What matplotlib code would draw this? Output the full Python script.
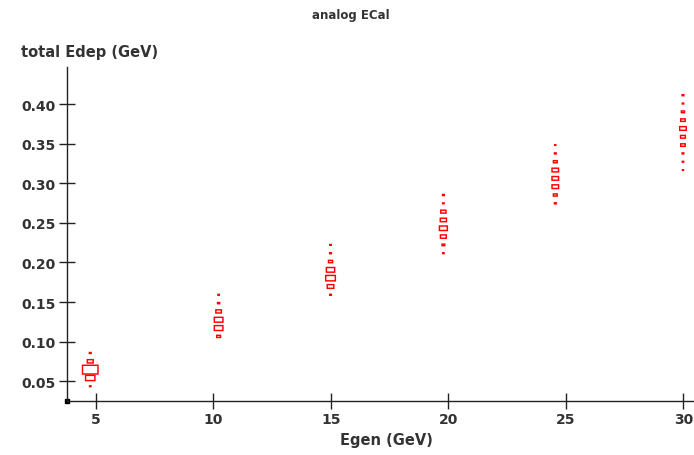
import matplotlib
matplotlib.use("Agg")
import matplotlib.pyplot as plt
from matplotlib.patches import Rectangle

# 2D histogram: generated energy (x) vs total deposited energy (y)
egen_centers = [4.77, 10.23, 14.99, 19.79, 24.55, 29.98]   # x-bin centres (GeV)
edep_bin_origin = 0.0017                                   # centre of y-bin 0 (GeV)
edep_bin_width = 0.0105                                    # y-bin width (GeV)
first_edep_bin = [4, 10, 15, 20, 26, 30]                   # lowest filled y-bin per column
bin_counts = [
    [4, 27, 45, 17, 5],
    [11, 25, 25, 16, 6, 4],
    [5, 19, 28, 24, 12, 5, 4],
    [4, 8, 17, 23, 18, 15, 4, 5],
    [5, 11, 19, 19, 19, 11, 5, 3],
    [3, 4, 5, 13, 14, 19, 13, 9, 4, 5],
]
egen_box_width = 0.66    # full box width in x units for the fullest bin
xticks = [5, 10, 15, 20, 25, 30]
yticks = [0.05, 0.10, 0.15, 0.20, 0.25, 0.30, 0.35, 0.40]

text_color = "#333333"
axis_color = "#222222"
font = "DejaVu Sans"

fig = plt.figure(figsize=(6.94, 4.56), dpi=100)
ax = fig.add_axes([66.5 / 694, 1 - 402 / 456, 1 - 66.5 / 694, (402 - 68) / 456])
ax.set_xlim(3.76, 30.45)
ax.set_ylim(0.0251, 0.4468)

cmax = max(max(c) for c in bin_counts)
for xc, k0, counts in zip(egen_centers, first_edep_bin, bin_counts):
    for i, c in enumerate(counts):
        yc = edep_bin_origin + (k0 + i) * edep_bin_width
        w = egen_box_width * c / cmax
        h = edep_bin_width * 1.05 * c / cmax
        box = Rectangle((xc - w / 2, yc - h / 2), w, h, fill=False,
                        edgecolor="#ff0000", linewidth=1.05, joinstyle="miter")
        box.set_snap(False)
        ax.add_patch(box)

for s in ("top", "right"):
    ax.spines[s].set_visible(False)
for s in ("left", "bottom"):
    ax.spines[s].set_color(axis_color)
    ax.spines[s].set_linewidth(1.0)

ax.set_xticks(xticks)
ax.set_xticklabels([str(t) for t in xticks])
ax.set_yticks(yticks)
ax.set_yticklabels([f"{t:.2f}" for t in yticks])
ax.tick_params(direction="inout", length=11, width=1.0, color=axis_color,
               labelcolor=text_color, labelsize=10, pad=2.5)
for lab in ax.get_xticklabels() + ax.get_yticklabels():
    lab.set_fontweight("bold")
    lab.set_family(font)

# small square marking the axes origin
ax.plot([0], [0], marker="s", markersize=3, color="black",
        transform=ax.transAxes, clip_on=False)

fig.text(351 / 694, 1 - 15 / 456, "analog ECal", ha="center", va="center",
         fontsize=8.5, fontweight="bold", color=text_color, family=font)
fig.text(21 / 694, 1 - 53 / 456, "total Edep (GeV)", ha="left", va="center",
         fontsize=10.5, fontweight="bold", color=text_color, family=font)
fig.text(386 / 694, 1 - 441 / 456, "Egen (GeV)", ha="center", va="center",
         fontsize=10.5, fontweight="bold", color=text_color, family=font)

fig.savefig("out.png", dpi=100)
